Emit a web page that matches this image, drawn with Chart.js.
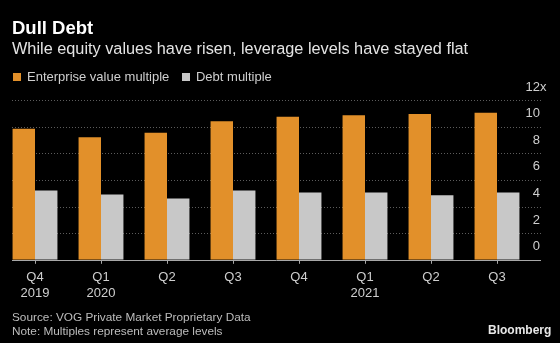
<!DOCTYPE html>
<html>
<head>
<meta charset="utf-8">
<script src="https://cdn.jsdelivr.net/npm/chart.js@4"></script>
<style>
  html, body { margin: 0; padding: 0; background: #000; }
  #wrap { position: relative; width: 560px; height: 343px; background: #000; font-family: "Liberation Sans", Arial, sans-serif; overflow: hidden; }
  #wrap canvas { position: absolute; left: 0; top: 0; }
  .txt { position: absolute; white-space: nowrap; }
  #title { left: 12px; top: 17px; font-size: 18.5px; font-weight: bold; color: #fff; }
  #sub { left: 12px; top: 39px; font-size: 16.3px; color: #e4e4e4; }
  #legend { left: 13px; top: 69px; font-size: 13px; color: #cfcfcf; }
  #legend span.sw { display: inline-block; width: 8px; height: 8px; margin-right: 6px; vertical-align: 0px; }
  #legend span.item { margin-right: 9px; }
  #src { left: 12px; top: 310px; font-size: 11.8px; color: #bdbdbd; line-height: 14px; }
  #logo { left: 488px; top: 323px; font-size: 12px; font-weight: bold; color: #e8e8e8; }
</style>
</head>
<body>
<div id="wrap">
  <canvas id="chart" width="560" height="343"></canvas>
  <div class="txt" id="title">Dull Debt</div>
  <div class="txt" id="sub">While equity values have risen, leverage levels have stayed flat</div>
  <div class="txt" id="legend">
    <span class="item"><span class="sw" style="background:#e2902a"></span>Enterprise value multiple</span>
    <span class="item"><span class="sw" style="background:#c8c8c8"></span>Debt multiple</span>
  </div>
  <div class="txt" id="src">Source: VOG Private Market Proprietary Data<br>Note: Multiples represent average levels</div>
  <div class="txt" id="logo">Bloomberg</div>
</div>
<script>
// quarters on the x axis
const quarters = [['Q4', '2019'], ['Q1', '2020'], 'Q2', 'Q3', 'Q4', ['Q1', '2021'], 'Q2', 'Q3'];
const evMultiple = [9.85, 9.2, 9.55, 10.4, 10.75, 10.85, 10.95, 11.05];
const debtMultiple = [5.2, 4.9, 4.6, 5.2, 5.05, 5.05, 4.85, 5.05];
const yTicks = [0, 2, 4, 6, 8, 10, 12];

// dotted gridlines + baseline + right-hand labels sitting above the lines
const bbgAxis = {
  id: 'bbgAxis',
  beforeDatasetsDraw(chart) {
    const ctx = chart.ctx;
    const y = chart.scales.y;
    ctx.save();
    ctx.strokeStyle = '#5c5c5c';
    ctx.lineWidth = 1;
    ctx.setLineDash([1, 2]);
    yTicks.forEach(v => {
      if (v === 0) return;
      const py = Math.round(y.getPixelForValue(v)) + 0.5;
      ctx.beginPath();
      ctx.moveTo(12, py);
      ctx.lineTo(541, py);
      ctx.stroke();
    });
    ctx.restore();
  },
  afterDatasetsDraw(chart) {
    const ctx = chart.ctx;
    const y = chart.scales.y;
    ctx.save();
    const py0 = Math.round(y.getPixelForValue(0)) + 0.5;
    ctx.strokeStyle = '#a8a8a8';
    ctx.lineWidth = 1;
    ctx.beginPath();
    ctx.moveTo(12, py0);
    ctx.lineTo(541, py0);
    ctx.stroke();

    ctx.font = '13px "Liberation Sans", Arial, sans-serif';
    ctx.fillStyle = '#cfcfcf';
    ctx.textBaseline = 'middle';
    yTicks.forEach(v => {
      const py = y.getPixelForValue(v) - 13;
      ctx.textAlign = 'right';
      ctx.fillText(String(v), 540, py);
      if (v === 12) {
        ctx.textAlign = 'left';
        ctx.fillText('x', 540, py);
      }
    });
    ctx.restore();
  }
};

new Chart(document.getElementById('chart'), {
  type: 'bar',
  data: {
    labels: quarters,
    datasets: [
      { label: 'Enterprise value multiple', data: evMultiple, backgroundColor: '#e2902a' },
      { label: 'Debt multiple', data: debtMultiple, backgroundColor: '#c8c8c8' }
    ]
  },
  options: {
    responsive: false,
    animation: false,
    layout: { padding: { left: 2, right: 30, top: 100, bottom: 36 } },
    datasets: { bar: { categoryPercentage: 0.68, barPercentage: 1.0 } },
    plugins: { legend: { display: false }, tooltip: { enabled: false }, title: { display: false } },
    scales: {
      x: {
        grid: { display: true, drawOnChartArea: false, drawTicks: true, tickLength: 4, offset: false, color: '#a8a8a8' },
        border: { display: false },
        ticks: { color: '#cfcfcf', font: { family: '"Liberation Sans", Arial, sans-serif', size: 13 }, padding: 6, maxRotation: 0, autoSkip: false }
      },
      y: {
        display: false,
        min: 0,
        max: 12
      }
    }
  },
  plugins: [bbgAxis]
});
</script>
</body>
</html>
